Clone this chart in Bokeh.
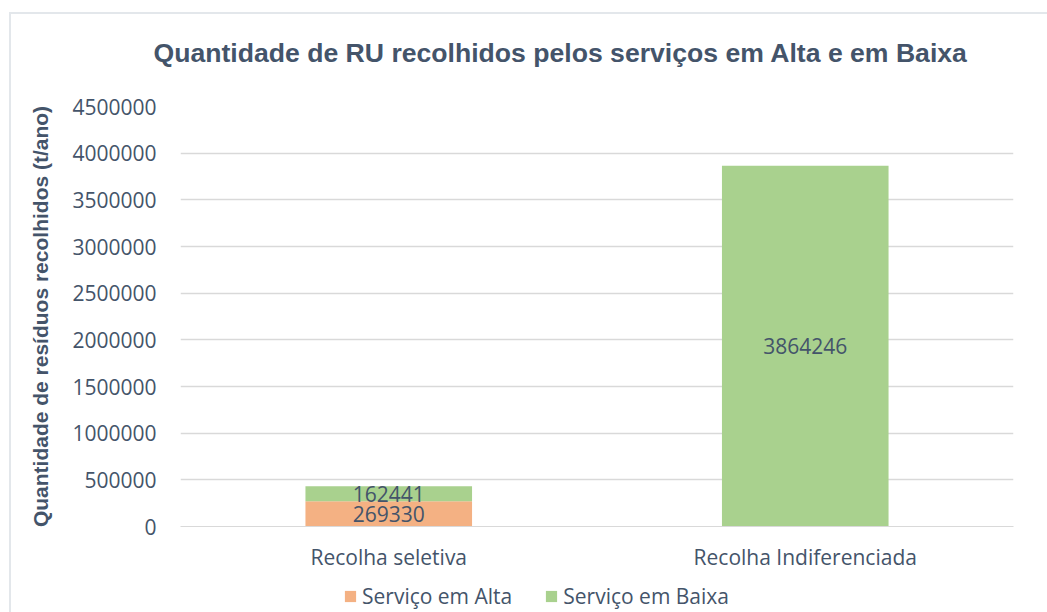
from bokeh.plotting import figure
from bokeh.layouts import column
from bokeh.models import ColumnDataSource, FactorRange, Range1d, FixedTicker, BasicTickFormatter, LabelSet, Legend, LegendItem
from bokeh.embed import file_html
from bokeh.resources import INLINE
from bokeh.core.properties import value

categories = ["Recolha seletiva", "Recolha Indiferenciada"]
servico_alta = [269330, 0]
servico_baixa = [162441, 3864246]
series_names = ["Serviço em Alta", "Serviço em Baixa"]
colors = ["#F4B183", "#A9D18E"]
y_ticks = [0, 500000, 1000000, 1500000, 2000000, 2500000, 3000000, 3500000, 4000000, 4500000]
title_text = "Quantidade de RU recolhidos pelos serviços em Alta e em Baixa"

TXT = "#44546A"
GRID = "#D9D9D9"
FS = "21px"

source = ColumnDataSource(dict(cat=categories, alta=servico_alta, baixa=servico_baixa))

p = figure(x_range=FactorRange(*categories), y_range=Range1d(0, 4500000),
           frame_width=833, frame_height=420, output_backend="svg", toolbar_location=None,
           min_border_left=169, min_border_right=34, min_border_top=92, min_border_bottom=46)

r = p.vbar_stack(["alta", "baixa"], x="cat", width=0.4, source=source, color=colors, line_width=0)

# labels
lx, ly, lt = [], [], []
for c, a, b in zip(categories, servico_alta, servico_baixa):
    if a:
        lx.append(c); ly.append(a / 2); lt.append(str(a))
    if b:
        lx.append(c); ly.append(a + b / 2); lt.append(str(b))
lsrc = ColumnDataSource(dict(x=lx, y=ly, t=lt))
labels = LabelSet(x="x", y="y", text="t", source=lsrc, text_align="center", text_baseline="middle",
                  text_font=value("Open Sans"), text_font_size=FS, text_color=TXT)
p.add_layout(labels)

# trailing blank line lifts the title's visible line higher above the plot area
p.title.text = title_text + "\n"
p.title.align = "left"
p.title.offset = -27
p.title.text_font = "Liberation Sans"
p.title.text_font_size = "26.6px"
p.title.text_font_style = "bold"
p.title.text_color = TXT
p.title.standoff = 17

p.yaxis.ticker = FixedTicker(ticks=y_ticks)
p.yaxis.formatter = BasicTickFormatter(use_scientific=False)
p.yaxis.axis_label = "Quantidade de resíduos recolhidos (t/ano)"
p.yaxis.axis_label_text_font = "Liberation Sans"
p.yaxis.axis_label_text_font_size = FS
p.yaxis.axis_label_text_font_style = "bold"
p.yaxis.axis_label_text_color = TXT
p.yaxis.axis_label_standoff = 17
for ax in (p.xaxis[0], p.yaxis[0]):
    ax.major_label_text_font = "Open Sans"
    ax.major_label_text_font_size = FS
    ax.major_label_text_color = TXT
    ax.major_tick_line_color = None
    ax.minor_tick_line_color = None
p.yaxis.axis_line_color = None
p.yaxis.major_label_standoff = 18
p.xaxis.axis_line_color = GRID
p.xaxis.major_label_standoff = 10

p.xgrid.grid_line_color = None
p.ygrid.grid_line_color = GRID
p.ygrid.grid_line_width = 1.5
p.outline_line_color = None

# legend strip below the chart (its renderers are hidden; only the legend shows)
lg = figure(width=1036, height=40, output_backend="svg", toolbar_location=None,
            min_border=0, x_range=FactorRange(*categories), y_range=Range1d(0, 4500000))
lg.axis.visible = False
lg.grid.visible = False
lg.outline_line_color = None
k = lg.vbar_stack(["alta", "baixa"], x="cat", width=0.4, source=source, color=colors, line_width=0)
for rr in k:
    rr.visible = False
legend = Legend(items=[LegendItem(label=series_names[0], renderers=[k[0]]),
                       LegendItem(label=series_names[1], renderers=[k[1]])],
                orientation="horizontal", location=(163, 3),
                label_text_font="Open Sans", label_text_font_size=FS, label_text_color=TXT,
                glyph_width=14, glyph_height=14, label_standoff=5, spacing=32,
                padding=0, margin=0, border_line_color=None, background_fill_alpha=0,
                inactive_fill_alpha=0, click_policy="none")
lg.add_layout(legend)

layout = column(p, lg, spacing=0, margin=(12, 0, 0, 9),
                styles={"border-left": "2px solid #E3E7EB", "border-top": "2px solid #E3E7EB"})
open("out.html", "w").write(file_html(layout, INLINE))
